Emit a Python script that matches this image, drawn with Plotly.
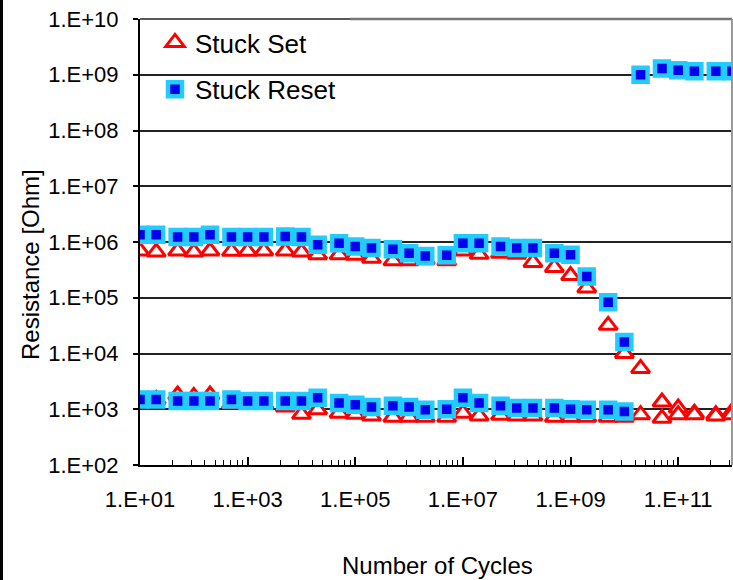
import plotly.graph_objects as go

# ---------------- data ----------------
cycles = [1e1, 2e1, 5e1, 1e2, 2e2, 5e2, 1e3, 2e3, 5e3, 1e4, 2e4, 5e4,
          1e5, 2e5, 5e5, 1e6, 2e6, 5e6, 1e7, 2e7, 5e7, 1e8, 2e8, 5e8,
          1e9, 2e9, 5e9, 1e10, 2e10, 5e10, 1e11, 2e11, 5e11, 1e12]

# Stuck Set (red triangles): high-resistance state and low-resistance state
set_high = [6.9e5, 6.6e5, 6.9e5, 6.6e5, 6.9e5, 6.8e5, 6.8e5, 6.9e5, 6.9e5, 6.6e5, 5.9e5, 5.9e5,
            5.8e5, 5.1e5, 4.6e5, 4.6e5, 4.8e5, 4.6e5, 6.9e5, 6.0e5, 6.3e5, 6.0e5, 4.3e5, 3.5e5,
            2.5e5, 1.5e5, 3.2e4, 1.0e4, 5.4e3, 1.35e3, 1.05e3, 8.5e2, 8.0e2, 9.0e2]
set_low = [1.4e3, 1.5e3, 1.8e3, 1.7e3, 1.8e3, 1.25e3, 1.25e3, 1.25e3, 1.1e3, 8.1e2, 9.8e2, 8.5e2,
           8.1e2, 7.6e2, 7.2e2, 7.2e2, 7.2e2, 7.2e2, 8.5e2, 7.6e2, 7.8e2, 7.6e2, 7.6e2, 7.2e2,
           7.2e2, 7.2e2, 7.2e2, 7.2e2, 8.0e2, 6.9e2, 8.0e2, 8.0e2, 7.6e2, 8.0e2]

# Stuck Reset (blue/cyan squares)
reset_high = [1.35e6, 1.35e6, 1.23e6, 1.23e6, 1.35e6, 1.23e6, 1.23e6, 1.23e6, 1.26e6, 1.23e6, 8.9e5, 9.5e5,
              8.3e5, 7.8e5, 7.4e5, 6.3e5, 5.6e5, 5.8e5, 9.5e5, 9.5e5, 8.3e5, 7.8e5, 7.8e5, 6.3e5,
              5.9e5, 2.4e5, 8.3e4, 1.6e4, 1.0e9, 1.3e9, 1.2e9, 1.15e9, 1.15e9, 1.15e9]
reset_low = [1.5e3, 1.5e3, 1.4e3, 1.4e3, 1.4e3, 1.5e3, 1.4e3, 1.4e3, 1.4e3, 1.4e3, 1.6e3, 1.3e3,
             1.2e3, 1.1e3, 1.15e3, 1.1e3, 9.8e2, 1.0e3, 1.6e3, 1.3e3, 1.15e3, 1.05e3, 1.05e3, 1.05e3,
             1.0e3, 9.8e2, 9.8e2, 9.1e2, None, None, None, None, None, None]

series_names = ["Stuck Set", "Stuck Reset"]

y_tick_vals = [1e2, 1e3, 1e4, 1e5, 1e6, 1e7, 1e8, 1e9, 1e10]
y_tick_text = ["1.E+02", "1.E+03", "1.E+04", "1.E+05", "1.E+06",
               "1.E+07", "1.E+08", "1.E+09", "1.E+10"]
x_tick_vals = [1e1, 1e3, 1e5, 1e7, 1e9, 1e11]
x_tick_text = ["1.E+01", "1.E+03", "1.E+05", "1.E+07", "1.E+09", "1.E+11"]

x_title = "Number of Cycles"
y_title = "Resistance [Ohm]"

# ---------------- figure ----------------
FONT = "Liberation Sans, Arial, sans-serif"
W, H = 733, 580
ML, MR, MT, MB = 140, 1, 19, 115
PW, PH = W - ML - MR, H - MT - MB

def px_x(p):
    return (p - ML) / PW

def px_y(p):
    return (H - MB - p) / PH

# minor ticks of the x axis (Excel style, 2 decades per major unit)
x_minor = []
for m in range(6):
    for k in range(2, 10):
        v = k * k * 10 ** (2 * m + 1)
        if v < 1e12:
            x_minor.append(v)

fig = go.Figure()
fig.add_trace(go.Scatter(
    x=cycles + cycles, y=set_high + set_low, mode="markers", name=series_names[0],
    legendgroup="set",
    marker=dict(symbol="triangle-up", size=16, color="white",
                line=dict(color="#FF0000", width=3)),
))
fig.add_trace(go.Scatter(
    x=cycles + cycles, y=reset_high + reset_low, mode="markers", name=series_names[1],
    legendgroup="reset",
    marker=dict(symbol="square", size=14, color="#0000EE",
                line=dict(color="#22CCFF", width=4.5)),
))

fig.update_layout(
    width=W, height=H,
    margin=dict(l=ML, r=MR, t=MT, b=MB, pad=0),
    paper_bgcolor="white", plot_bgcolor="white",
    font=dict(family=FONT, color="black"),
    showlegend=True,
    legend=dict(
        x=px_x(155), y=1, xanchor="left", yanchor="top",
        bgcolor="rgba(0,0,0,0)", borderwidth=0,
        font=dict(size=26, family=FONT, color="black"),
        tracegroupgap=10, traceorder="grouped",
        itemsizing="trace",
    ),
    xaxis=dict(
        type="log", range=[1, 12],
        tickmode="array", tickvals=x_tick_vals, ticktext=x_tick_text,
        ticks="inside", ticklen=8, tickwidth=1.5, tickcolor="black",
        minor=dict(tickmode="array", tickvals=x_minor, ticks="inside",
                   ticklen=5, tickwidth=1.2, tickcolor="black", showgrid=False),
        showgrid=False, zeroline=False,
        showline=True, linecolor="black", linewidth=2,
        tickfont=dict(size=22, family=FONT, color="black"),
        ticklabelstandoff=14,
    ),
    yaxis=dict(
        type="log", range=[2, 10],
        tickmode="array", tickvals=y_tick_vals, ticktext=y_tick_text,
        ticks="outside", ticklen=5, tickwidth=2, tickcolor="black",
        showgrid=True, gridcolor="#222222", gridwidth=1.5,
        zeroline=False,
        showline=True, linecolor="black", linewidth=2,
        tickfont=dict(size=22, family=FONT, color="black"),
        ticklabelstandoff=10,
    ),
    shapes=[
        # white legend area hiding the gridline under the legend
        dict(type="rect", xref="paper", yref="paper",
             x0=px_x(142), x1=px_x(350), y0=px_y(118), y1=px_y(21),
             fillcolor="white", line=dict(width=0), layer="between"),
        # plot-area border: top and right in grey, top under legend black
        dict(type="line", xref="paper", yref="paper",
             x0=px_x(350), x1=1, y0=1, y1=1, line=dict(color="#777777", width=2.5)),
        dict(type="line", xref="paper", yref="paper",
             x0=0, x1=px_x(350), y0=1, y1=1, line=dict(color="#222222", width=1.5)),
        dict(type="line", xref="paper", yref="paper",
             x0=1, x1=1, y0=0, y1=1, line=dict(color="#999999", width=2)),
        # outer frame on the left edge of the picture
        dict(type="line", xref="paper", yref="paper",
             x0=px_x(1.5), x1=px_x(1.5), y0=px_y(H), y1=px_y(0),
             line=dict(color="black", width=3)),
    ],
    annotations=[
        dict(text=x_title, xref="paper", yref="paper",
             x=px_x(437), y=px_y(565), xanchor="center", yanchor="middle",
             showarrow=False, font=dict(size=24, family=FONT, color="black")),
        dict(text=y_title, xref="paper", yref="paper",
             x=px_x(30), y=px_y(265), xanchor="center", yanchor="middle",
             textangle=-90, showarrow=False,
             font=dict(size=24, family=FONT, color="black")),
    ],
)

fig.write_html("out.html")
